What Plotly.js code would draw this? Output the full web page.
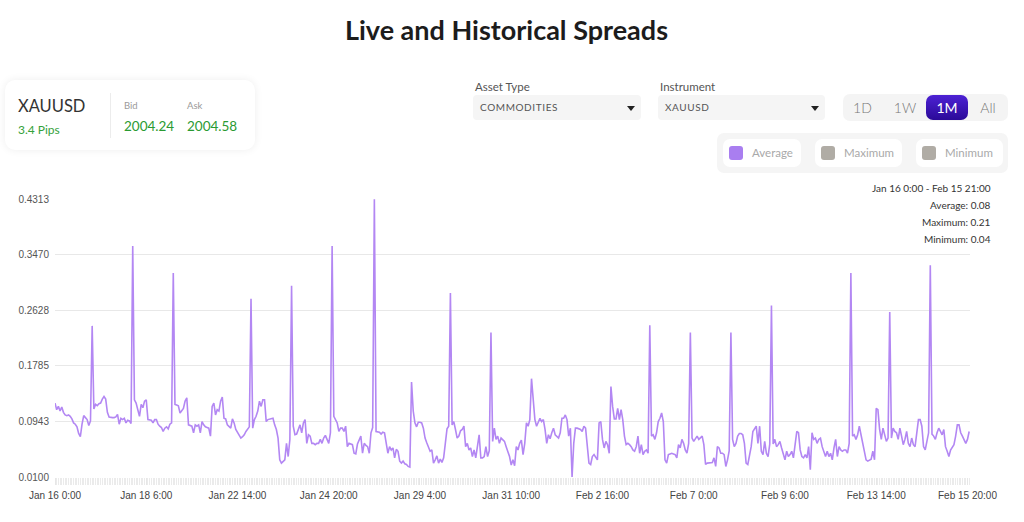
<!DOCTYPE html>
<html>
<head>
<meta charset="utf-8">
<script src="https://cdn.plot.ly/plotly-3.0.1.min.js"></script>
<style>
html,body{margin:0;padding:0;background:#fff;}
body{width:1024px;height:522px;overflow:hidden;position:relative;font-family:Lato,"Open Sans",sans-serif;}
#chart{position:absolute;left:0;top:0;width:1024px;height:522px;}
.a{position:absolute;white-space:nowrap;}
.card{left:5px;top:80px;width:250px;height:70px;background:#fff;border-radius:10px;box-shadow:0 0 9px rgba(0,0,0,0.07);}
.sym{left:13px;top:16px;font-size:16.5px;line-height:20px;color:#333;}
.pips{left:13px;top:43px;font-size:12px;line-height:14px;color:#34a13a;}
.div{left:105px;top:13px;width:1px;height:45px;background:#ececec;}
.lbl{font-size:9.5px;line-height:12px;color:#9a9a9a;top:20px;}
.px{font-size:13.5px;line-height:16px;color:#2a9a32;top:38px;}
.flab{font-size:11.5px;line-height:14px;color:#555;top:80px;}
.dd{top:95px;height:25px;background:#f5f5f5;border-radius:4px;}
.dd span{position:absolute;left:7px;top:6px;font-size:10px;line-height:13px;letter-spacing:0.6px;color:#555;}
.caret{position:absolute;top:11px;width:0;height:0;border-left:4px solid transparent;border-right:4px solid transparent;border-top:5px solid #222;}
.grp{left:843px;top:94px;width:165px;height:27px;background:#f4f4f4;border-radius:7px;}
.btn{position:absolute;top:0;height:27px;line-height:27px;font-size:14px;color:#777;text-align:center;font-weight:300;}
.sel{background:linear-gradient(#4d22d4,#2b0a98);color:#fff;border-radius:7px;top:1px;height:25px;line-height:25px;font-weight:400;}
.leg{left:717px;top:133px;width:291px;height:40px;background:#f5f5f5;border-radius:7px;}
.pill{position:absolute;top:6px;height:28px;background:#fff;border-radius:7px;}
.sq{position:absolute;left:6px;top:7px;width:14px;height:14px;border-radius:3px;}
.pill span{position:absolute;left:29px;top:7px;font-size:11.5px;line-height:14px;color:#a9a9a9;}
</style>
</head>
<body>
<div id="chart"></div>

<div class="a card">
  <div class="a sym">XAUUSD</div>
  <div class="a pips">3.4 Pips</div>
  <div class="a div"></div>
  <div class="a lbl" style="left:119px">Bid</div>
  <div class="a lbl" style="left:182px">Ask</div>
  <div class="a px" style="left:119px">2004.24</div>
  <div class="a px" style="left:182px">2004.58</div>
</div>

<div class="a flab" style="left:475px">Asset Type</div>
<div class="a dd" style="left:473px;width:168px"><span>COMMODITIES</span><div class="caret" style="left:154px"></div></div>
<div class="a flab" style="left:660px">Instrument</div>
<div class="a dd" style="left:658px;width:167px"><span>XAUUSD</span><div class="caret" style="left:153px"></div></div>

<div class="a grp">
  <div class="btn" style="left:5px;width:29px">1D</div>
  <div class="btn" style="left:47px;width:30px">1W</div>
  <div class="btn sel" style="left:83px;width:42px">1M</div>
  <div class="btn" style="left:130px;width:30px">All</div>
</div>

<div class="a leg">
  <div class="pill" style="left:6px;width:78px"><div class="sq" style="background:#a97ef0"></div><span>Average</span></div>
  <div class="pill" style="left:98px;width:87px"><div class="sq" style="background:#b0aca5"></div><span>Maximum</span></div>
  <div class="pill" style="left:199px;width:87px"><div class="sq" style="background:#b0aca5"></div><span>Minimum</span></div>
</div>

<script>
// ---- data ----
const tickLabels = ["Jan 16 0:00","Jan 18 6:00","Jan 22 14:00","Jan 24 20:00","Jan 29 4:00","Jan 31 10:00","Feb 2 16:00","Feb 7 0:00","Feb 9 6:00","Feb 13 14:00","Feb 15 20:00"];
const tickHourIdx = [0,54,108,162,216,270,324,378,432,486,540];
const yTickVals = [0.0100,0.0943,0.1785,0.2628,0.3470,0.4313];
const yTickText = ["0.0100","0.0943","0.1785","0.2628","0.3470","0.4313"];
const rangeText = "Jan 16 0:00 - Feb 15 21:00";
const statAverage = 0.08, statMaximum = 0.21, statMinimum = 0.04;

// hourly average spread, Jan 16 0:00 .. Feb 15 21:00 (trading hours)
const avgSpread = [
0.122,0.112,0.117,0.110,0.116,0.108,0.104,0.103,0.104,0.102,
0.098,0.092,0.090,0.086,0.076,0.071,0.090,0.103,0.100,0.097,
0.088,0.095,0.239,0.113,0.120,0.118,0.121,0.122,0.128,0.132,
0.128,0.108,0.101,0.100,0.100,0.100,0.101,0.105,0.090,0.099,
0.097,0.099,0.092,0.096,0.095,0.091,0.360,0.127,0.122,0.112,
0.102,0.120,0.115,0.125,
0.127,0.097,0.097,0.096,0.092,0.097,0.097,0.090,0.087,0.085,
0.079,0.084,0.086,0.083,0.090,0.092,0.319,0.120,0.119,0.118,
0.107,0.110,0.114,0.125,0.130,0.089,0.088,0.087,0.077,0.089,
0.087,0.089,0.077,0.094,0.089,0.086,0.085,0.084,0.072,0.117,
0.122,0.104,0.112,0.110,0.125,0.131,0.099,0.098,0.089,0.087,
0.084,0.098,0.092,0.082,
0.078,0.072,0.069,0.071,0.074,0.079,0.082,0.086,0.280,0.084,
0.097,0.102,0.110,0.125,0.117,0.127,0.127,0.094,0.097,0.098,
0.098,0.099,0.089,0.082,0.069,0.036,0.031,0.033,0.036,0.061,
0.041,0.067,0.300,0.087,0.074,0.075,0.082,0.089,0.077,0.092,
0.097,0.061,0.074,0.072,0.061,0.061,0.059,0.061,0.061,0.067,
0.061,0.069,0.073,0.067,
0.061,0.077,0.360,0.102,0.098,0.092,0.079,0.084,0.084,0.079,
0.087,0.056,0.061,0.060,0.059,0.046,0.045,0.060,0.067,0.072,
0.046,0.061,0.058,0.056,0.046,0.077,0.085,0.431,0.079,0.079,
0.078,0.075,0.078,0.077,0.063,0.046,0.056,0.051,0.054,0.039,
0.052,0.049,0.034,0.031,0.034,0.030,0.029,0.026,0.025,0.154,
0.110,0.092,0.086,0.093,
0.093,0.092,0.084,0.069,0.062,0.056,0.049,0.051,0.031,0.036,
0.042,0.031,0.037,0.032,0.039,0.061,0.083,0.087,0.289,0.089,
0.094,0.082,0.069,0.072,0.080,0.082,0.087,0.056,0.061,0.051,
0.054,0.041,0.051,0.039,0.056,0.074,0.039,0.039,0.041,0.056,
0.041,0.050,0.229,0.064,0.084,0.067,0.072,0.061,0.069,0.066,
0.064,0.056,0.049,0.041,
0.028,0.036,0.027,0.056,0.051,0.061,0.066,0.044,0.061,0.092,
0.087,0.097,0.159,0.127,0.097,0.087,0.092,0.099,0.094,0.097,
0.082,0.061,0.074,0.068,0.077,0.084,0.074,0.072,0.069,0.077,
0.099,0.099,0.104,0.097,0.072,0.084,0.010,0.061,0.084,0.084,
0.083,0.082,0.079,0.087,0.084,0.059,0.031,0.029,0.041,0.044,
0.040,0.036,0.092,0.094,
0.067,0.054,0.064,0.059,0.046,0.147,0.117,0.098,0.098,0.114,
0.097,0.112,0.097,0.072,0.059,0.061,0.059,0.056,0.051,0.049,
0.056,0.072,0.046,0.059,0.044,0.049,0.051,0.046,0.240,0.072,
0.074,0.067,0.077,0.094,0.099,0.107,0.094,0.036,0.031,0.044,
0.045,0.046,0.045,0.044,0.039,0.059,0.054,0.067,0.061,0.051,
0.046,0.061,0.229,0.069,
0.064,0.069,0.072,0.067,0.069,0.072,0.059,0.029,0.031,0.031,
0.031,0.032,0.039,0.026,0.056,0.054,0.046,0.046,0.044,0.026,
0.036,0.050,0.229,0.067,0.056,0.061,0.072,0.076,0.076,0.074,
0.061,0.031,0.029,0.041,0.056,0.079,0.084,0.087,0.061,0.087,
0.049,0.044,0.064,0.046,0.041,0.060,0.270,0.060,0.067,0.056,
0.059,0.064,0.054,0.046,
0.036,0.049,0.041,0.044,0.049,0.039,0.056,0.079,0.077,0.051,
0.041,0.039,0.044,0.039,0.056,0.021,0.077,0.067,0.069,0.061,
0.067,0.069,0.056,0.049,0.041,0.049,0.041,0.046,0.036,0.054,
0.067,0.041,0.056,0.051,0.049,0.051,0.051,0.046,0.061,0.319,
0.072,0.074,0.067,0.074,0.087,0.074,0.061,0.046,0.036,0.034,
0.036,0.037,0.049,0.036,
0.114,0.112,0.082,0.067,0.084,0.074,0.064,0.069,0.260,0.069,
0.084,0.079,0.077,0.067,0.084,0.072,0.059,0.067,0.079,0.061,
0.056,0.069,0.059,0.056,0.077,0.097,0.097,0.087,0.056,0.051,
0.064,0.077,0.331,0.075,0.072,0.067,0.077,0.084,0.079,0.074,
0.082,0.056,0.049,0.041,0.051,0.056,0.059,0.072,0.089,0.089,
0.077,0.072,0.067,0.061,0.067,0.079
];

// ---- layout helpers (pixel geometry of the plot area) ----
const PL = 55, PR = 970, PT = 199, PB = 476.7;
const px2x = p => (p - PL) / (PR - PL);
const py2y = p => (PB - p) / (PB - PT);

const hourIdx = avgSpread.map((_, i) => i);

const trace = {
  type: 'scatter', mode: 'lines',
  x: hourIdx, y: avgSpread,
  line: {color: '#b387f3', width: 1.6},
  hoverinfo: 'skip'
};

const statFont = {family: 'Lato, Open Sans, sans-serif', size: 10, color: '#333'};
const statLines = [rangeText, 'Average: ' + statAverage.toFixed(2), 'Maximum: ' + statMaximum.toFixed(2), 'Minimum: ' + statMinimum.toFixed(2)];
const statY = [188, 205, 222, 239];
const annotations = statLines.map((t, k) => ({
  text: t, xref: 'paper', yref: 'paper', x: px2x(993), y: py2y(statY[k]),
  xanchor: 'right', yanchor: 'middle', showarrow: false, font: statFont, align: 'right'
}));

const layout = {
  width: 1024, height: 522,
  margin: {l: PL, r: 1024 - PR, t: PT, b: 522 - PB, pad: 0},
  paper_bgcolor: 'rgba(0,0,0,0)', plot_bgcolor: 'rgba(0,0,0,0)',
  showlegend: false,
  title: {
    text: 'Live and Historical Spreads',
    font: {family: 'Lato, Open Sans, sans-serif', size: 27, color: '#1c1c1c', weight: 'bold'},
    xref: 'container', x: 0.4946, xanchor: 'center',
    yref: 'container', y: 1 - 31 / 522, yanchor: 'middle'
  },
  xaxis: {
    range: [0, 541.5], tickmode: 'array', tickvals: tickHourIdx, ticktext: tickLabels,
    ticks: 'outside', ticklen: 7, tickcolor: '#e6e6e6', tickwidth: 1,
    showgrid: false, zeroline: false, showline: false,
    tickfont: {family: 'Liberation Sans, Arial, sans-serif', size: 10, color: '#444'},
    ticklabelstandoff: 2,
    minor: {tick0: 0, dtick: 1, ticks: 'outside', ticklen: 7, tickcolor: '#ebebeb', tickwidth: 1, showgrid: false},
    fixedrange: true
  },
  yaxis: {
    range: [yTickVals[0], yTickVals[yTickVals.length - 1]],
    tickmode: 'array', tickvals: yTickVals, ticktext: yTickText,
    showgrid: true, gridcolor: '#e8e8e8', gridwidth: 1, zeroline: false, showline: false, ticks: '',
    tickfont: {family: 'Liberation Sans, Arial, sans-serif', size: 10, color: '#555'},
    ticklabelstandoff: 5,
    fixedrange: true
  },
  shapes: [{
    type: 'rect', xref: 'paper', yref: 'paper', layer: 'above',
    x0: px2x(868), x1: px2x(1002), y0: py2y(248), y1: py2y(180),
    fillcolor: '#ffffff', line: {width: 0}
  }],
  annotations: annotations
};

Plotly.newPlot('chart', [trace], layout, {displayModeBar: false, staticPlot: true});
</script>
</body>
</html>
